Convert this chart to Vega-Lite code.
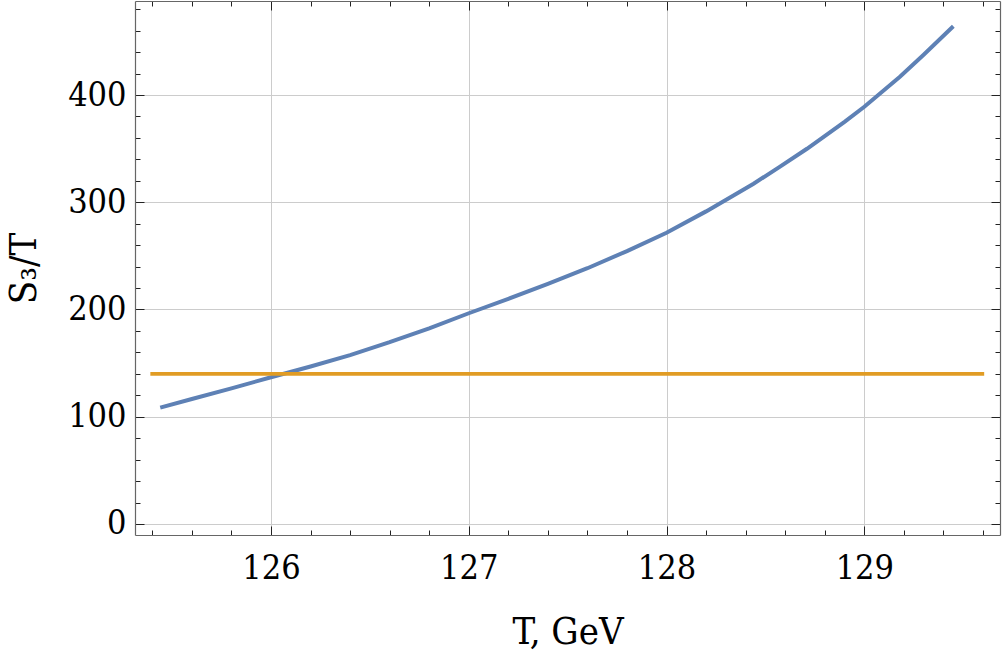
{
  "$schema": "https://vega.github.io/schema/vega-lite/v6.json",
  "width": 865,
  "height": 534,
  "padding": {"left": 135, "top": 1, "right": 4, "bottom": 119},
  "autosize": {"type": "none"},
  "background": "white",
  "config": {
    "view": {"stroke": null},
    "axis": {
      "labelFont": "DejaVu Serif Condensed",
      "labelFontSize": 34,
      "labelColor": "black",
      "titleFont": "DejaVu Serif Condensed",
      "titleFontSize": 38,
      "titleFontWeight": "normal",
      "titleColor": "black",
      "domainColor": "#666666",
      "domainWidth": 1.2,
      "tickColor": "#222222",
      "tickWidth": 1,
      "gridColor": "#cccccc",
      "gridWidth": 1
    }
  },
  "datasets": {
    "curve": [
      {"T": 125.44, "S": 108.5},
      {"T": 125.6, "S": 116.5},
      {"T": 125.8, "S": 126.5},
      {"T": 126.0, "S": 136.8},
      {"T": 126.2, "S": 146.8},
      {"T": 126.4, "S": 157.5},
      {"T": 126.6, "S": 169.5},
      {"T": 126.8, "S": 182.5},
      {"T": 127.0, "S": 196.5},
      {"T": 127.2, "S": 210},
      {"T": 127.4, "S": 224},
      {"T": 127.6, "S": 238.5},
      {"T": 127.8, "S": 254.5},
      {"T": 128.0, "S": 271.5},
      {"T": 128.2, "S": 291.5},
      {"T": 128.44, "S": 317.3},
      {"T": 128.57, "S": 332.8},
      {"T": 128.71, "S": 349.9},
      {"T": 128.9, "S": 375},
      {"T": 129.0, "S": 389.1},
      {"T": 129.18, "S": 417},
      {"T": 129.3, "S": 437.5},
      {"T": 129.45, "S": 464.2}
    ],
    "threshold": [
      {"T": 125.39, "S": 140},
      {"T": 129.606, "S": 140}
    ]
  },
  "layer": [
    {
      "data": {"name": "curve"},
      "mark": {"type": "line", "color": "#5E81B5", "strokeWidth": 4, "clip": true},
      "encoding": {
        "x": {
          "field": "T", "type": "quantitative",
          "scale": {"domain": [125.3124, 129.686], "nice": false, "zero": false},
          "axis": {
            "orient": "bottom",
            "title": "T, GeV",
            "values": [125.4, 125.6, 125.8, 126, 126.2, 126.4, 126.6, 126.8, 127, 127.2, 127.4, 127.6, 127.8, 128, 128.2, 128.4, 128.6, 128.8, 129, 129.2, 129.4, 129.6],
            "format": ".0f",
            "labelExpr": "abs(datum.value - round(datum.value)) < 0.01 ? datum.label : ''",
            "tickSize": {"condition": {"test": "abs(datum.value - round(datum.value)) < 0.01", "value": -9}, "value": -5},
            "grid": true,
            "gridOpacity": {"condition": {"test": "abs(datum.value - round(datum.value)) < 0.01", "value": 1}, "value": 0},
            "labelPadding": 25,
            "titlePadding": 28
          }
        },
        "y": {
          "field": "S", "type": "quantitative",
          "scale": {"domain": [-10.3, 487.7], "nice": false, "zero": false},
          "axis": {
            "orient": "left",
            "title": "S₃/T",
            "values": [0, 20, 40, 60, 80, 100, 120, 140, 160, 180, 200, 220, 240, 260, 280, 300, 320, 340, 360, 380, 400, 420, 440, 460, 480],
            "labelExpr": "datum.value % 100 === 0 ? datum.label : ''",
            "tickSize": {"condition": {"test": "datum.value % 100 === 0", "value": -9}, "value": -5},
            "grid": true,
            "gridOpacity": {"condition": {"test": "datum.value % 100 === 0", "value": 1}, "value": 0},
            "labelPadding": 18,
            "titlePadding": 24
          }
        }
      }
    },
    {
      "data": {"name": "threshold"},
      "mark": {"type": "line", "color": "#E19C24", "strokeWidth": 3.8, "clip": true},
      "encoding": {
        "x": {
          "field": "T", "type": "quantitative",
          "axis": {
            "orient": "top",
            "title": null,
            "labels": false,
            "grid": false,
            "values": [125.4, 125.6, 125.8, 126, 126.2, 126.4, 126.6, 126.8, 127, 127.2, 127.4, 127.6, 127.8, 128, 128.2, 128.4, 128.6, 128.8, 129, 129.2, 129.4, 129.6],
            "tickSize": {"condition": {"test": "abs(datum.value - round(datum.value)) < 0.01", "value": -9}, "value": -5}
          }
        },
        "y": {
          "field": "S", "type": "quantitative",
          "axis": {
            "orient": "right",
            "title": null,
            "labels": false,
            "grid": false,
            "values": [0, 20, 40, 60, 80, 100, 120, 140, 160, 180, 200, 220, 240, 260, 280, 300, 320, 340, 360, 380, 400, 420, 440, 460, 480],
            "tickSize": {"condition": {"test": "datum.value % 100 === 0", "value": -9}, "value": -5}
          }
        }
      }
    }
  ],
  "resolve": {"axis": {"x": "independent", "y": "independent"}}
}
